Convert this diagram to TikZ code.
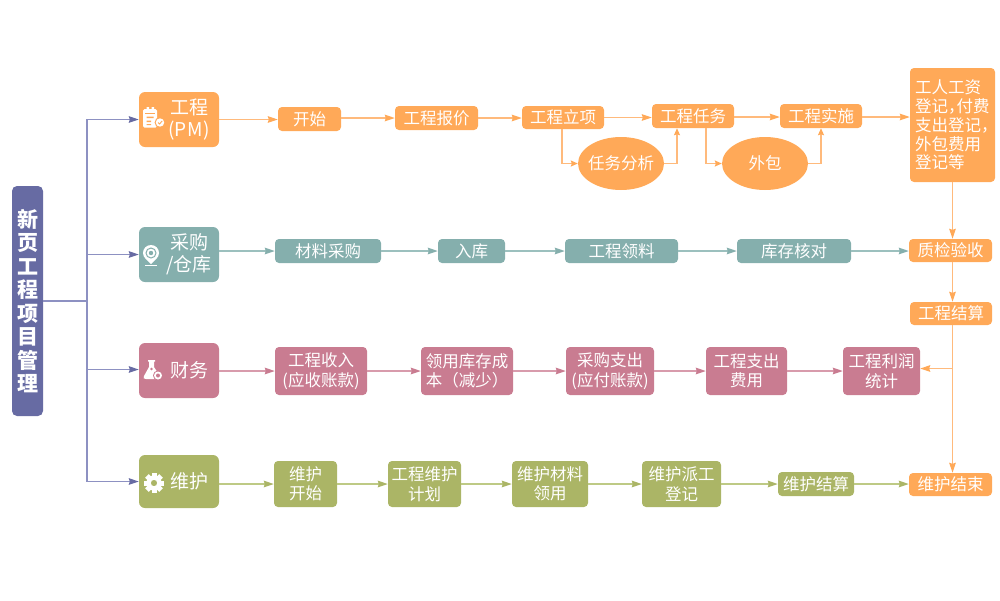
\documentclass[tikz,border=0pt]{standalone}
\usepackage{fontspec}
\setmainfont{Noto Sans CJK SC}
\usetikzlibrary{arrows.meta,shapes.geometric,calc}
\definecolor{orgF}{HTML}{FFA958}
\definecolor{orgL}{HTML}{FFBA7C}
\definecolor{teaF}{HTML}{85AFAD}
\definecolor{teaL}{HTML}{9CC0BE}
\definecolor{pnkF}{HTML}{C97C91}
\definecolor{pnkL}{HTML}{D89BAC}
\definecolor{grnF}{HTML}{ABB566}
\definecolor{grnL}{HTML}{BECA85}
\definecolor{purF}{HTML}{676BA3}
\definecolor{purL}{HTML}{8D91C2}
\newcommand\headtxt[1]{\hspace*{20pt}\parbox[c]{52pt}{\centering\baselineskip=22pt #1}}
\tikzset{
  x=1pt,y=-1pt,
  base/.style={text=white,inner sep=0pt,align=center,font=\fontsize{16.5}{19.5}\selectfont,rounded corners=4pt},
  obox/.style={base,fill=orgF},
  tbox/.style={base,fill=teaF},
  pbox/.style={base,fill=pnkF},
  gbox/.style={base,fill=grnF},
  oell/.style={ellipse,fill=orgF,text=white,inner sep=0pt,font=\fontsize{16.5}{19.5}\selectfont},
  headbox/.style={inner sep=0pt,text=white,rounded corners=6pt,minimum width=80pt,font=\fontsize{19}{22}\selectfont},
  conn/.style={line width=1.4pt},
  oarr/.style={conn,draw=orgL,-{Stealth[inset=1pt,length=10pt,width=6.5pt,color=orgF]}},
  oarrs/.style={conn,draw=orgL,-{Stealth[inset=1pt,length=7pt,width=6pt,color=orgF]}},
  tarr/.style={conn,draw=teaL,-{Stealth[inset=1pt,length=10pt,width=6.5pt,color=teaF]}},
  parr/.style={conn,draw=pnkL,-{Stealth[inset=1pt,length=10pt,width=6.5pt,color=pnkF]}},
  garr/.style={conn,draw=grnL,-{Stealth[inset=1pt,length=10pt,width=6.5pt,color=grnF]}},
  uarr/.style={conn,draw=purL,-{Stealth[inset=1pt,length=10pt,width=6.5pt,color=purF]}},
  uline/.style={conn,draw=purL},
}
\newcommand\bx[7]{\node (#1) [#2,minimum width=#5pt-#3pt,minimum height=#6pt-#4pt] at ({(#3+#5)/2},{(#4+#6)/2}) {#7};}
\begin{document}
\begin{tikzpicture}
\useasboundingbox (0,0) rectangle (1000,600);
% root
\node (root) [base,fill=purF,rounded corners=5pt,minimum width=31pt,minimum height=230pt,font=\fontsize{21}{23.5}\selectfont\bfseries] at (27.5,301) {新\\页\\工\\程\\项\\目\\管\\理};
% heads
\node (h1) [headbox,fill=orgF,minimum height=55pt] at (179,119.5) {\headtxt{工程\\(P\kern1.2pt M)}};
\node (h2) [headbox,fill=teaF,minimum height=55pt] at (179,254.5) {\headtxt{采购\\/仓库}};
\node (h3) [headbox,fill=pnkF,minimum height=55pt] at (179,370.5) {\headtxt{财务}};
\node (h4) [headbox,fill=grnF,minimum height=53pt] at (179,481.5) {\headtxt{维护}};
% row 1
\bx{a1}{obox}{278}{107}{341}{131}{开始}
\bx{a2}{obox}{395}{106}{478}{130}{工程报价}
\bx{a3}{obox}{522}{106}{604}{129}{工程立项}
\bx{a4}{obox}{652}{104}{734}{128}{工程任务}
\bx{a5}{obox}{780}{104}{862}{128}{工程实施}
\node (e1) [oell,minimum width=86pt,minimum height=53pt] at (621,163.5) {\makebox[0pt]{任务分析}};
\node (e2) [oell,minimum width=86pt,minimum height=53pt] at (765,163.5) {\makebox[0pt]{外包}};
\node (big) [obox,minimum width=85pt,minimum height=114pt] at (952.5,125) {\hspace*{2pt}\parbox[c]{77pt}{\raggedright\baselineskip=18.8pt 工人工资\\登记，\kern-8pt 付费\\支出登记，\\外包费用\\登记等}};
% row 2
\bx{b1}{tbox}{275}{239}{381}{263}{材料采购}
\bx{b2}{tbox}{438}{239}{505}{263}{入库}
\bx{b3}{tbox}{565}{239}{678}{263}{工程领料}
\bx{b4}{tbox}{737}{239}{851}{263}{库存核对}
\bx{qc}{obox}{909}{239}{992}{262}{质检验收}
\bx{st}{obox}{910}{302}{992}{325}{工程结算}
% row 3
\bx{c1}{pbox}{275}{347}{367}{395}{工程收入\\(应收账款)}
\bx{c2}{pbox}{421}{347}{513}{395}{领用库存成\\本（减少）}
\bx{c3}{pbox}{566}{347}{654}{395}{采购支出\\(应付账款)}
\bx{c4}{pbox}{706}{347}{787}{395}{工程支出\\费用}
\bx{c5}{pbox}{843}{347}{920}{395}{工程利润\\统计}
% row 4
\bx{d1}{gbox}{274}{461}{337}{507}{维护\\开始}
\bx{d2}{gbox}{388}{461}{461}{507}{工程维护\\计划}
\bx{d3}{gbox}{512}{461}{588}{507}{维护材料\\领用}
\bx{d4}{gbox}{642}{461}{721}{507}{维护派工\\登记}
\bx{d5}{gbox}{778}{472}{854}{496}{维护结算}
\bx{de}{obox}{909}{473}{992}{496}{维护结束}
% root connectors
\coordinate (tk) at (87,301);
\draw[uline] (root.east |- tk) -- (tk);
\draw[uarr] (tk) |- (h1.west);
\draw[uarr] (tk) |- (h2.west);
\draw[uarr] (tk) |- ($(h3.west)+(0,-1)$);
\draw[uarr] (tk) |- (h4.west);
% row 1 connectors
\draw[oarr] (h1.east) -- (h1.east -| a1.west);
\draw[oarr] (a1.east |- a2.east) -- (a2.west);
\draw[oarr] (a2.east) -- (a2.east -| a3.west);
\draw[oarr] (a3.east) -- (a3.east -| a4.west);
\draw[oarr] ($(a4.east)+(0,1)$) -- ($(a5.west)+(0,1)$);
\draw[oarr] ($(a5.east)+(0,1)$) -- ($(a5.east -| big.west)+(0,1)$);
\draw[oarrs] (a3.south -| 562,0) |- (e1.west);
\draw[oarrs] (e1.east) -| (a4.south -| 677,0);
\draw[oarrs] (a4.south -| 706,0) |- (e2.west);
\draw[oarrs] (e2.east) -| (a5.south -| 821,0);
\draw[oarr] (big.south) -- (qc.north -| big.south);
\draw[oarr] (qc.south -| big.south) -- (st.north -| big.south);
\draw[oarr] (st.south -| big.south) -- (de.north -| big.south);
\coordinate (jn) at (big.south |- c5.east);
\draw[oarr] ($(jn)+(0,-2.5)$) -- ($(c5.east)+(0,-2.5)$);
% row 2 connectors
\draw[tarr] (h2.east |- b1.west) -- (b1.west);
\draw[tarr] (b1.east) -- (b2.west);
\draw[tarr] (b2.east) -- (b3.west);
\draw[tarr] (b3.east) -- (b4.west);
\draw[tarr] (b4.east) -- (b4.east -| qc.west);
% row 3
\draw[parr] (h3.east |- c1.west) -- (c1.west);
\draw[parr] (c1.east) -- (c2.west);
\draw[parr] (c2.east) -- (c3.west);
\draw[parr] (c3.east) -- (c4.west);
\draw[parr] (c4.east) -- (c5.west);
% row 4
\draw[garr] (h4.east |- d1.west) -- (d1.west);
\draw[garr] (d1.east) -- (d2.west);
\draw[garr] (d2.east) -- (d3.west);
\draw[garr] (d3.east) -- (d4.west);
\draw[garr] (d4.east) -- (d5.west);
\draw[garr] (d5.east) -- (d5.east -| de.west);
% icon: calendar
\fill[white,rounded corners=1.5pt] (143,109) rectangle (157,127.5);
\fill[white] (146.5,107) rectangle (149,111) (151.5,107) rectangle (154,111);
\fill[orgF] (145,112.5) rectangle (155,114);
\fill[orgF] (146.5,116.5) rectangle (153.5,118) (146.5,120.5) rectangle (151,122) (146.5,124) rectangle (151,125.2);
\fill[orgF] (160,122.5) circle (5.4pt);
\fill[white] (160,122.5) circle (4.2pt);
\draw[orgF,line width=.9pt] (158,122.5) -- (159.5,124) -- (162.2,121);
% icon: pin
\fill[white] (143,253) .. controls (143,248.5) and (146.5,245) .. (151,245) .. controls (155.5,245) and (159,248.5) .. (159,253) .. controls (159,257.5) and (155,260) .. (151,264) .. controls (147,260) and (143,257.5) .. (143,253) -- cycle;
\draw[teaF,line width=1pt] (151,253) circle (5pt);
\fill[teaF] (151,253) circle (2.2pt);
\draw[white,line width=.7pt] (145,265.5) -- (157,265.5);
% icon: flask
\fill[white] (148,360) -- (155,360) -- (155,361.5) -- (154,361.5) -- (154,367) -- (160,376) .. controls (161,378.5) and (160,379) .. (158,379) -- (146,379) .. controls (143.5,379) and (143,378) .. (144,376) -- (149,367) -- (149,361.5) -- (148,361.5) -- cycle;
\fill[pnkF] (158,375.5) circle (5pt);
\fill[white] (158,375.5) circle (4pt);
\fill[pnkF] (158,375.5) circle (2pt);
\fill[pnkF] (151.5,369) circle (1.3pt);
% icon: gear
\foreach \a in {0,45,...,315}{\fill[white,rotate around={\a:(154,483)}] (151.5,473) rectangle (156.5,477);}
\fill[white,even odd rule] (154,483) circle (7.6pt) (154,483) circle (3.2pt);
\end{tikzpicture}
\end{document}
